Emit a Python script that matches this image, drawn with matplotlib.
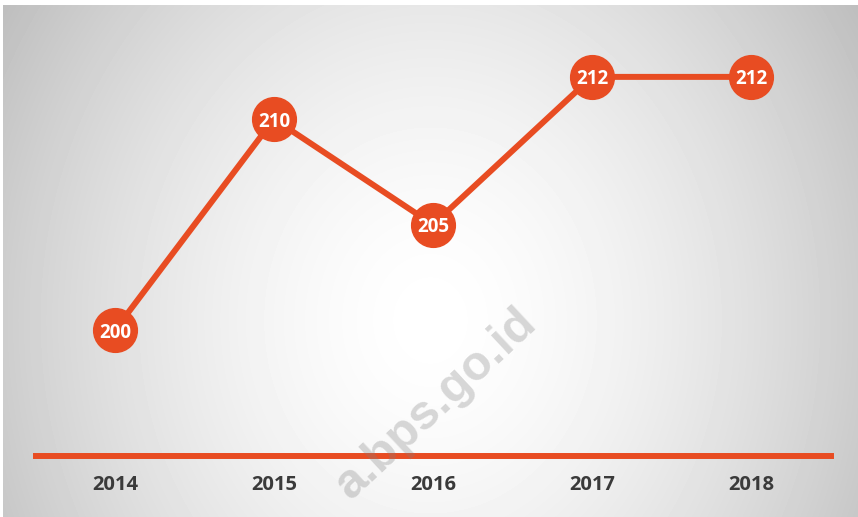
import numpy as np
import matplotlib
matplotlib.use("Agg")
import matplotlib.pyplot as plt

# chart data
years = ["2014", "2015", "2016", "2017", "2018"]
values = [200, 210, 205, 212, 212]

ORANGE = "#E84C22"
LABEL_GRAY = "#3a3a3a"

W, H = 858, 517
fig = plt.figure(figsize=(W / 100, H / 100), dpi=100)
fig.patch.set_facecolor("white")

# radial grey-to-white background panel
bg = fig.add_axes([3 / W, 0, (W - 3) / W, (H - 5) / H], zorder=0)
gx, gy = np.meshgrid(np.arange(W - 3), np.arange(H - 5))
d = np.sqrt(((gx - 427) / 560.0) ** 2 + ((gy - 315) / 650.0) ** 2)
shade = 1 - 0.3 * np.clip(d, 0, 1) ** 1.6
bg.imshow(shade, cmap="gray", vmin=0, vmax=1, aspect="auto", interpolation="bilinear")
bg.set_axis_off()

# main chart axes
ax = fig.add_axes([35.5 / W, 61 / H, 795 / W, 450 / H], zorder=1)
ax.patch.set_alpha(0)
x = np.arange(len(years))
ax.plot(x, values, color=ORANGE, lw=4.3, marker="o", ms=31.5,
        mfc=ORANGE, mec=ORANGE, zorder=3, clip_on=False)
for xi, v in zip(x, values):
    ax.text(xi, v, str(v), ha="center", va="center_baseline", color="white",
            fontsize=13.5, fontweight="bold", family="Open Sans", zorder=4)

ax.set_xlim(-0.5, len(years) - 0.5)
ax.set_ylim(194.03, 215.36)
for side in ["top", "left", "right"]:
    ax.spines[side].set_visible(False)
ax.spines["bottom"].set_color(ORANGE)
ax.spines["bottom"].set_linewidth(4.3)
ax.set_yticks([])
ax.set_xticks(x)
ax.set_xticklabels(years, fontsize=14.5, fontweight="bold", family="Open Sans", color=LABEL_GRAY)
ax.tick_params(axis="x", length=0, pad=14)

# watermark
fig.text(436 / W, 1 - 404 / H, "a.bps.go.id", rotation=43, rotation_mode="anchor",
         ha="center", va="center", fontsize=35, fontweight="bold",
         family="Liberation Sans", color="#7f7f7f", alpha=0.3, zorder=10)

fig.savefig("out.png", dpi=100)
